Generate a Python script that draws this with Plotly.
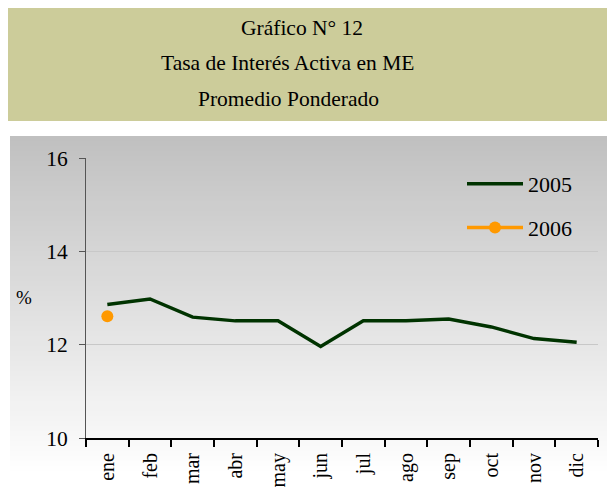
import plotly.graph_objects as go

months = ["ene", "feb", "mar", "abr", "may", "jun", "jul", "ago", "sep", "oct", "nov", "dic"]
tasa_2005 = [12.86, 12.98, 12.59, 12.51, 12.51, 11.96, 12.51, 12.51, 12.55, 12.38, 12.13, 12.05]
months_2006 = ["ene"]
tasa_2006 = [12.61]

W, H = 615, 491
OFF = 8  # page body margin offset
PL, PR, PT, PB = 86, 598, 158, 438
L, T = PL - OFF, PT - OFF
R = W - (PR - OFF)
B = H - (PB - OFF)
PW, PH = W - L - R, H - T - B

def px(x):
    return (x - OFF - L) / PW

def py(y):
    return (H - B - (y - OFF)) / PH

FONT = "Times New Roman"

fig = go.Figure()
fig.add_trace(go.Scatter(
    x=months, y=tasa_2005, name="2005", mode="lines",
    line=dict(color="#003300", width=3.5), legendgroup="a",
))
fig.add_trace(go.Scatter(
    x=months_2006, y=tasa_2006, name="2006", mode="lines+markers",
    line=dict(color="#FF9900", width=3.5),
    marker=dict(color="#FF9900", size=12), legendgroup="b",
))

shapes = []
shapes.append(dict(type="rect", xref="paper", yref="paper", layer="below",
                   x0=px(3), x1=px(612), y0=py(121), y1=py(7),
                   fillcolor="#CCCC9A", line=dict(width=0)))
top, bottom = 136, 476
n = 68
for i in range(n):
    y0 = top + (bottom - top) * i / n
    y1 = top + (bottom - top) * (i + 1) / n
    t = (i + 0.5) / n
    v = int(round(192 + (255 - 192) * t))
    shapes.append(dict(type="rect", xref="paper", yref="paper", layer="below",
                       x0=px(10), x1=px(612), y0=py(y1 + 0.5), y1=py(y0),
                       fillcolor=f"rgb({v},{v},{v})", line=dict(width=0)))

def note(text, x, y, size):
    return dict(text=text, x=px(x), y=py(y), xref="paper", yref="paper",
                xanchor="center", yanchor="middle", showarrow=False,
                font=dict(size=size, family=FONT, color="black"))

annotations = [
    note("Gráfico N° 12", 302, 28, 21.5),
    note("Tasa de Interés Activa en ME", 287, 63, 21.5),
    note("Promedio Ponderado", 288, 99, 21.5),
    note("%", 24, 297, 19),
]

fig.update_layout(
    width=W, height=H,
    margin=dict(l=L, r=R, t=T, b=B),
    paper_bgcolor="white",
    plot_bgcolor="rgba(0,0,0,0)",
    font=dict(family=FONT, color="black"),
    shapes=shapes,
    annotations=annotations,
    showlegend=True,
    legend=dict(x=px(462), y=py(163), xanchor="left", yanchor="top",
                bgcolor="rgba(0,0,0,0)", font=dict(size=22, family=FONT),
                traceorder="grouped", tracegroupgap=12, itemwidth=56),
    xaxis=dict(type="category", categoryorder="array", categoryarray=months,
               tickson="boundaries", ticks="outside", ticklen=7, tickwidth=2,
               tickcolor="black", showline=True, linecolor="black", linewidth=2,
               tickangle=-90, tickfont=dict(size=20, family=FONT),
               ticklabelstandoff=5,
               showgrid=False, zeroline=False, range=[-0.5, 11.5]),
    yaxis=dict(range=[10, 16], dtick=2, ticks="outside", ticklen=6, tickwidth=1,
               tickcolor="#555555", showline=True, linecolor="#555555", linewidth=1,
               tickfont=dict(size=21.5, family=FONT), ticklabelstandoff=7,
               showgrid=True, gridcolor="#C8C8C8", gridwidth=1, zeroline=False),
)

fig.write_html("out.html")
